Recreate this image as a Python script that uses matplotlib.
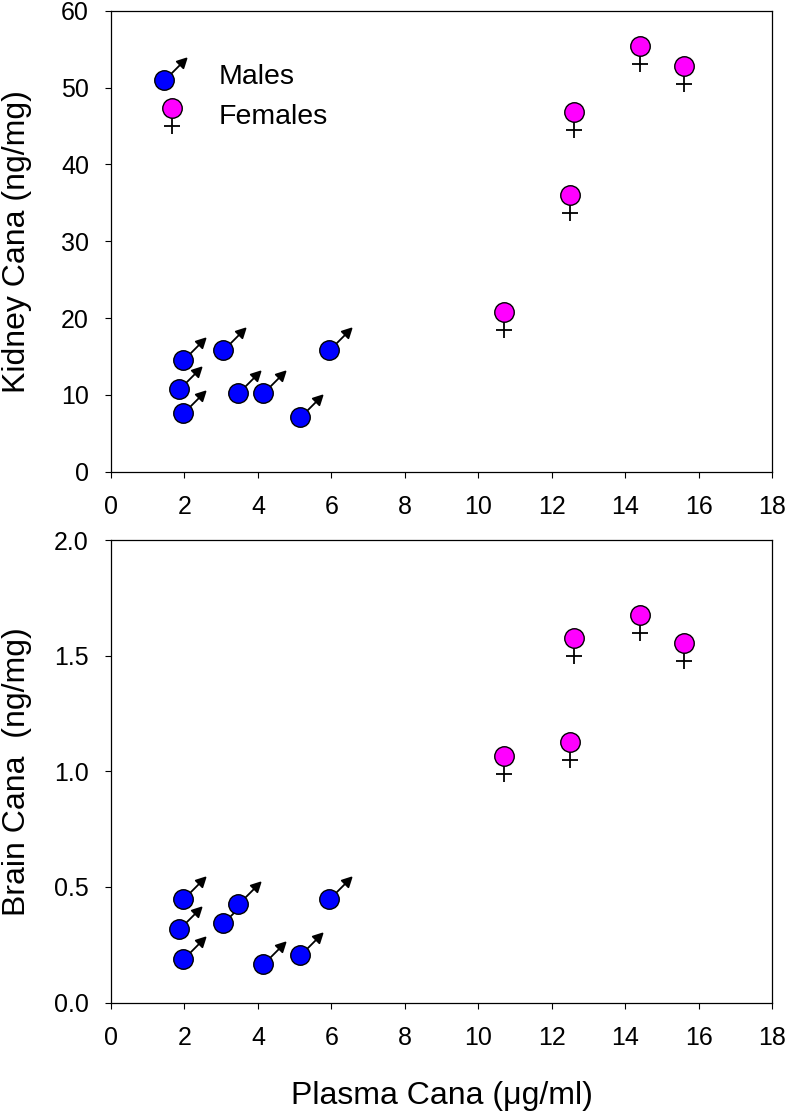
import matplotlib
matplotlib.use('Agg')
import matplotlib.pyplot as plt
from matplotlib.path import Path
from matplotlib.lines import Line2D
from matplotlib.legend_handler import HandlerTuple
from matplotlib.transforms import Affine2D
from matplotlib import font_manager

# ---------------- data ----------------
males_plasma = [1.95, 1.85, 1.95, 3.05, 3.45, 4.15, 5.15, 5.95]
males_kidney = [14.6, 10.8, 7.6, 15.9, 10.2, 10.2, 7.1, 15.9]
males_brain = [0.446, 0.317, 0.187, 0.345, 0.427, 0.165, 0.204, 0.446]

females_plasma = [10.7, 12.5, 12.6, 14.4, 15.6]
females_kidney = [20.8, 36.0, 46.8, 55.4, 52.8]
females_brain = [1.066, 1.125, 1.575, 1.676, 1.556]

x_ticks = [0, 2, 4, 6, 8, 10, 12, 14, 16, 18]
kidney_ticks = [0, 10, 20, 30, 40, 50, 60]
brain_ticks = [0.0, 0.5, 1.0, 1.5, 2.0]
brain_ticklabels = ['0.0', '0.5', '1.0', '1.5', '2.0']

# ---------------- fonts ----------------
names = {f.name for f in font_manager.fontManager.ttflist}
base = 'Liberation Sans' if 'Liberation Sans' in names else 'DejaVu Sans'
plt.rcParams['font.family'] = [base, 'DejaVu Sans']

PX = 0.72  # points per pixel at dpi 100

# male symbol: shaft + arrow head (pixel units, origin at circle centre)
male_path = Path(
    [(7, 7), (16.5, 16.5), (22, 22), (12.3, 18.9), (18.9, 12.3), (22, 22)],
    [Path.MOVETO, Path.LINETO, Path.MOVETO, Path.LINETO, Path.LINETO, Path.CLOSEPOLY])
male_ms = 2 * 22 * PX
# female symbol: stem + cross bar
female_path = Path(
    [(0, -10), (0, -26.3), (-8.3, -17.7), (8.3, -17.7)],
    [Path.MOVETO, Path.LINETO, Path.MOVETO, Path.LINETO])
female_ms = 2 * 26.3 * PX

circle_ms = 19.5 * PX
BLUE = '#0000ff'
MAGENTA = '#ff00ff'


def draw_group(ax, x, y, color, sym, sym_ms, sym_fill):
    ax.plot(x, y, ls='none', marker=sym, ms=sym_ms, mfc=sym_fill, mec='black',
            mew=1.3, zorder=2, clip_on=False)
    ax.plot(x, y, ls='none', marker='o', ms=circle_ms, mfc=color, mec='black',
            mew=1.0, zorder=3, clip_on=False)


fig = plt.figure(figsize=(7.88, 11.15), dpi=100)
W, H = 788, 1115
left = 111 / W
width = 661 / W
ax1 = fig.add_axes([left, 1 - 471.7 / H, width, 461 / H])
ax2 = fig.add_axes([left, 1 - 1002.5 / H, width, 462.5 / H])

draw_group(ax1, males_plasma, males_kidney, BLUE, male_path, male_ms, 'black')
draw_group(ax1, females_plasma, females_kidney, MAGENTA, female_path, female_ms, 'none')
draw_group(ax2, males_plasma, males_brain, BLUE, male_path, male_ms, 'black')
draw_group(ax2, females_plasma, females_brain, MAGENTA, female_path, female_ms, 'none')

for ax in (ax1, ax2):
    ax.set_xlim(0, 18)
    ax.set_xticks(x_ticks)
    ax.tick_params(direction='out', length=4.4, width=0.8, labelsize=18,
                   top=False, right=False)
    ax.tick_params(axis='x', pad=12.5)
    ax.tick_params(axis='y', pad=11.5)
    for s in ax.spines.values():
        s.set_linewidth(0.9)

ax1.set_ylim(0, 60)
ax1.set_yticks(kidney_ticks)
ax2.set_ylim(0, 2.0)
ax2.set_yticks(brain_ticks)
ax2.set_yticklabels(brain_ticklabels)

ax1.set_ylabel('Kidney Cana (ng/mg)', fontsize=23)
ax2.set_ylabel('Brain Cana  (ng/mg)', fontsize=23)
ax1.yaxis.set_label_coords(-0.119, 0.5)
ax2.yaxis.set_label_coords(-0.119, 0.5)
ax2.set_xlabel('Plasma Cana (\u03bcg/ml)', fontsize=23)
ax2.xaxis.set_label_coords(0.5, -0.17)

# ---------------- legend ----------------
m_c = Line2D([], [], ls='none', marker='o', ms=circle_ms, mfc=BLUE, mec='black', mew=1.0)
m_s = Line2D([], [], ls='none', marker=male_path, ms=male_ms, mfc='black', mec='black', mew=1.3)
f_c = Line2D([], [], ls='none', marker='o', ms=circle_ms, mfc=MAGENTA, mec='black', mew=1.0)
f_s = Line2D([], [], ls='none', marker=female_path, ms=female_ms, mfc='none', mec='black', mew=1.3)


class ShiftedTuple(HandlerTuple):
    def __init__(self, dx=0.0, dy=0.0):
        super().__init__(ndivide=1, pad=0.0)
        self.dx, self.dy = dx, dy

    def create_artists(self, legend, orig_handle, xdescent, ydescent, width,
                       height, fontsize, trans):
        t = trans + Affine2D().translate(self.dx, self.dy)
        return super().create_artists(legend, orig_handle, xdescent, ydescent,
                                      width, height, fontsize, t)


male_h = (m_s, m_c)
female_h = (f_s, f_c)
leg = ax1.legend([male_h, female_h], ['Males', 'Females'],
                 handler_map={male_h: ShiftedTuple(-7, -6.5),
                              female_h: ShiftedTuple(1, 5.5)},
                 loc='upper left', bbox_to_anchor=(0.047, 0.885),
                 frameon=False, fontsize=20.5, handlelength=2.0,
                 handletextpad=0.7, labelspacing=0.5, borderpad=0,
                 borderaxespad=0, numpoints=1)

fig.savefig('out.png', dpi=100)
